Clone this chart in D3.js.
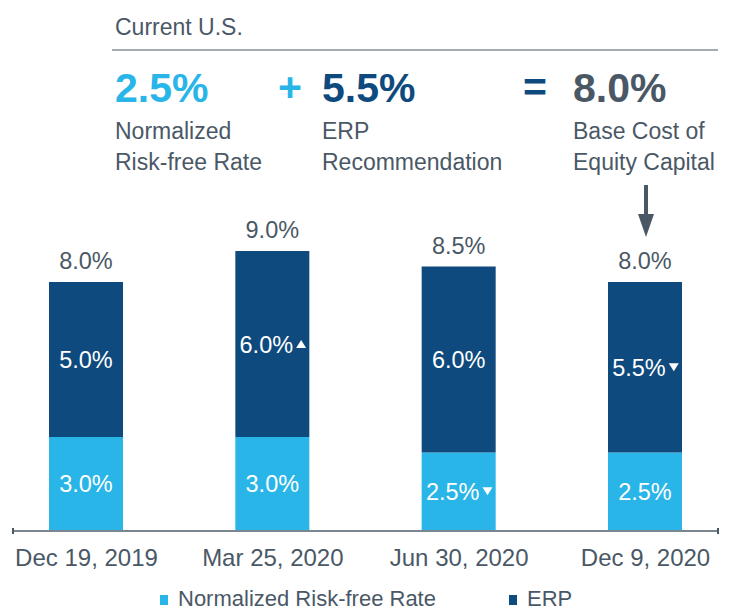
<!DOCTYPE html>
<html>
<head>
<meta charset="utf-8">
<script src="https://cdn.jsdelivr.net/npm/d3@7"></script>
<style>
  body { margin: 0; background: #fff; }
  text { font-family: "Liberation Sans", Arial, sans-serif; }
</style>
</head>
<body>
<div class="chart"></div>
<script>
var svgWidth = 732;
var svgHeight = 613;

// chart data
var dates = ["Dec 19, 2019", "Mar 25, 2020", "Jun 30, 2020", "Dec 9, 2020"];
var riskFree = [3.0, 3.0, 2.5, 2.5];
var erp = [5.0, 6.0, 6.0, 5.5];
var totals = [8.0, 9.0, 8.5, 8.0];
// change markers: 1 = up, -1 = down, 0 = none
var riskFreeChange = [0, 0, -1, 0];
var erpChange = [0, 1, 0, -1];
var seriesNames = ["Normalized Risk-free Rate", "ERP"];

var lightBlue = "#29b5e8";
var darkBlue = "#0e4a7e";
var gray = "#4a5866";

var svg = d3.select(".chart")
  .append("svg")
  .attr("width", svgWidth)
  .attr("height", svgHeight);

// header block
svg.append("text").attr("x", 115).attr("y", 35)
  .attr("font-size", 23).attr("fill", gray).text("Current U.S.");
svg.append("line")
  .attr("x1", 112).attr("x2", 718).attr("y1", 50).attr("y2", 50)
  .attr("stroke", gray).attr("stroke-width", 1.2);

var header = [
  {x: 115, big: riskFree[3].toFixed(1) + "%", color: lightBlue, lines: ["Normalized", "Risk-free Rate"]},
  {x: 322, big: erp[3].toFixed(1) + "%", color: darkBlue, lines: ["ERP", "Recommendation"]},
  {x: 573, big: totals[3].toFixed(1) + "%", color: gray, lines: ["Base Cost of", "Equity Capital"]}
];
header.forEach(function(h) {
  svg.append("text").attr("x", h.x).attr("y", 102)
    .attr("font-size", 41).attr("font-weight", "bold")
    .attr("fill", h.color).text(h.big);
  h.lines.forEach(function(l, i) {
    svg.append("text").attr("x", h.x).attr("y", 139 + i * 31)
      .attr("font-size", 23).attr("fill", gray).text(l);
  });
});
svg.append("text").attr("x", 290).attr("y", 101).attr("text-anchor", "middle")
  .attr("font-size", 41).attr("font-weight", "bold").attr("fill", lightBlue).text("+");
svg.append("text").attr("x", 535).attr("y", 101).attr("text-anchor", "middle")
  .attr("font-size", 41).attr("font-weight", "bold").attr("fill", darkBlue).text("=");

// scales
var xScale = d3.scalePoint().domain(dates).range([86, 645]);
var barWidth = 74;
var yScale = d3.scaleLinear().domain([0, 10]).range([530, 220]);

// stacked data
var stackData = dates.map(function(d, i) {
  return {date: d, rf: riskFree[i], erp: erp[i]};
});
var stack = d3.stack().keys(["rf", "erp"])(stackData);
var colors = [lightBlue, darkBlue];

var layers = svg.selectAll(".layer")
  .data(stack)
  .enter()
  .append("g")
  .attr("fill", (d, i) => colors[i]);

layers.selectAll("rect")
  .data(d => d)
  .enter()
  .append("rect")
  .attr("x", d => xScale(d.data.date) - barWidth / 2)
  .attr("y", d => yScale(d[1]))
  .attr("width", barWidth)
  .attr("height", d => yScale(d[0]) - yScale(d[1]));

// segment labels with change markers
function triangle(dir) {
  // small triangle, pointing up or down, drawn relative to origin
  return dir > 0 ? "M0,-4L5,4L-5,4Z" : "M0,4L5,-4L-5,-4Z";
}
stack.forEach(function(layer, li) {
  var changes = li === 0 ? riskFreeChange : erpChange;
  layer.forEach(function(d, i) {
    var cx = xScale(d.data.date);
    var cy = (yScale(d[0]) + yScale(d[1])) / 2;
    var val = d[1] - d[0];
    var shift = changes[i] !== 0 ? -6 : 0;
    var t = svg.append("text")
      .attr("x", cx + shift).attr("y", cy + 8.5)
      .attr("text-anchor", "middle")
      .attr("font-size", 23.5).attr("fill", "#fff")
      .text(val.toFixed(1) + "%");
    if (changes[i] !== 0) {
      var w = t.node().getComputedTextLength();
      svg.append("path")
        .attr("transform", `translate(${cx + shift + w / 2 + 8},${cy})`)
        .attr("d", triangle(changes[i]))
        .attr("fill", "#fff");
    }
  });
});

// totals
svg.selectAll(".total")
  .data(totals)
  .enter()
  .append("text")
  .attr("x", (d, i) => xScale(dates[i]))
  .attr("y", d => yScale(d) - 13)
  .attr("text-anchor", "middle")
  .attr("font-size", 23.5).attr("fill", gray)
  .text(d => d.toFixed(1) + "%");

// arrow to last bar
var ax = xScale(dates[3]) + 1;
svg.append("rect").attr("x", ax - 2).attr("y", 185).attr("width", 4).attr("height", 32).attr("fill", gray);
svg.append("path")
  .attr("d", `M${ax - 8},214L${ax + 8},214L${ax},237Z`)
  .attr("fill", gray);

// x axis
var axisG = svg.append("g").attr("transform", "translate(0,531)");
axisG.append("line").attr("x1", 13).attr("x2", 718).attr("stroke", "#7a8590").attr("stroke-width", 2);
[13, 718].forEach(function(x) {
  axisG.append("line").attr("x1", x).attr("x2", x).attr("y1", -3).attr("y2", 3)
    .attr("stroke", gray).attr("stroke-width", 2);
});
var bottomAxis = d3.axisBottom(xScale).tickSize(0).tickPadding(0);
var xAxis = svg.append("g").attr("transform", "translate(0,531)").call(bottomAxis);
xAxis.select(".domain").remove();
xAxis.selectAll("text")
  .attr("y", 35).attr("dy", 0)
  .attr("font-size", 24).attr("fill", gray)
  .style("font-family", '"Liberation Sans", Arial, sans-serif');

// legend
var legendX = [160, 509];
seriesNames.forEach(function(name, i) {
  svg.append("rect").attr("x", legendX[i]).attr("y", 595).attr("width", 8).attr("height", 10)
    .attr("fill", colors[i]);
  svg.append("text").attr("x", legendX[i] + 18).attr("y", 606)
    .attr("font-size", 22).attr("fill", gray).text(name);
});
</script>
</body>
</html>
